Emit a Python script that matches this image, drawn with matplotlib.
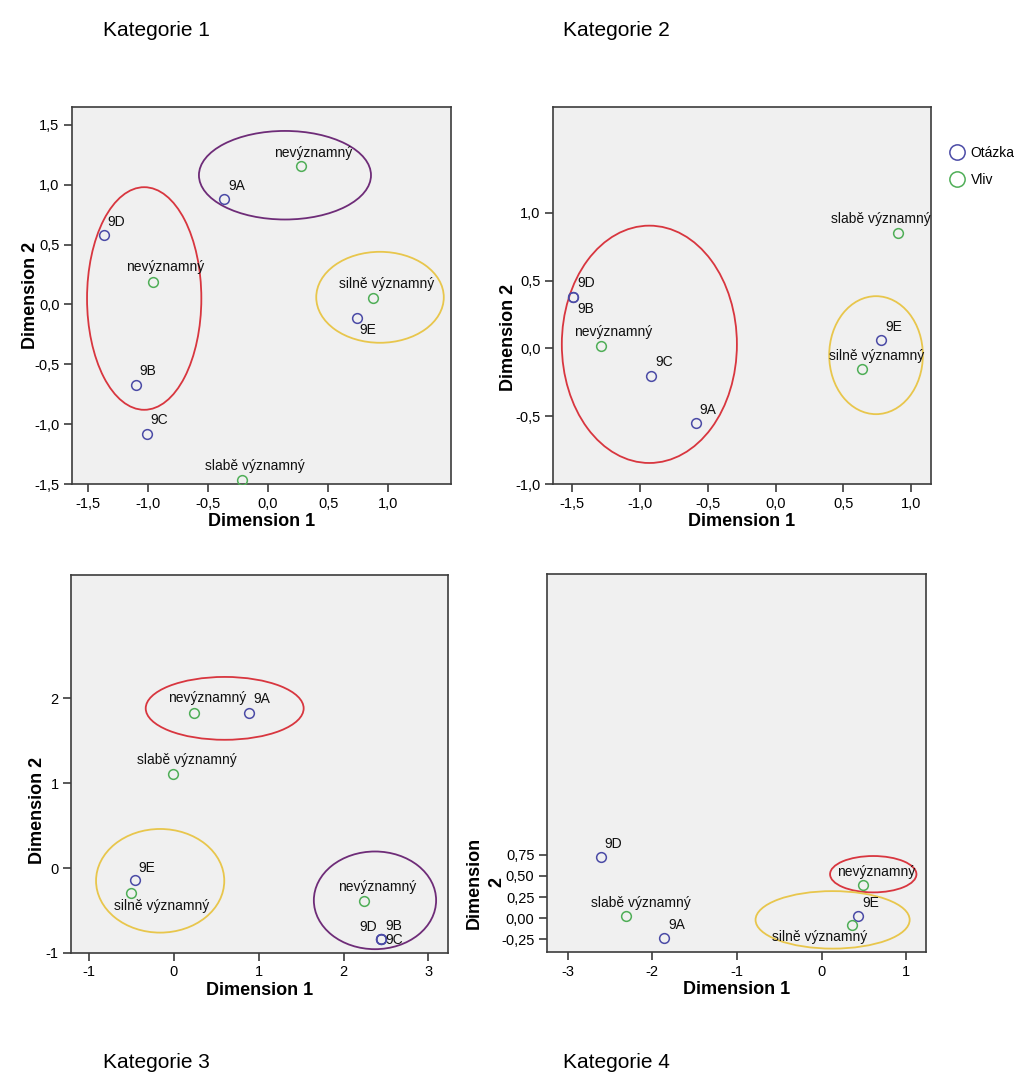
import matplotlib
matplotlib.use("Agg")
import matplotlib.pyplot as plt
from matplotlib.patches import Ellipse
from matplotlib.lines import Line2D

plt.rcParams['font.family'] = ['Liberation Sans', 'DejaVu Sans']

# ---- data: Kategorie 1 ----
k1_labels = ['9D', 'nevýznamný', '9B', '9C', '9A', 'nevýznamný', 'silně významný', '9E', 'slabě významný']
k1_x = [-1.36, -0.96, -1.10, -1.01, -0.37, 0.27, 0.87, 0.74, -0.22]
k1_y = [0.58, 0.19, -0.67, -1.08, 0.88, 1.16, 0.05, -0.11, -1.47]
k1_group = ['Otázka', 'Vliv', 'Otázka', 'Otázka', 'Otázka', 'Vliv', 'Vliv', 'Otázka', 'Vliv']
k1_ellipses = [(-1.03, 0.05, 0.95, 1.86, 'red'), (0.14, 1.08, 1.43, 0.74, 'purple'), (0.93, 0.06, 1.06, 0.76, 'yellow')]
k1_xticks = [-1.5, -1.0, -0.5, 0.0, 0.5, 1.0]
k1_xticklabels = ['-1,5', '-1,0', '-0,5', '0,0', '0,5', '1,0']
k1_yticks = [-1.5, -1.0, -0.5, 0.0, 0.5, 1.0, 1.5]
k1_yticklabels = ['-1,5', '-1,0', '-0,5', '0,0', '0,5', '1,0', '1,5']

# ---- data: Kategorie 2 ----
k2_labels = ['9D', '9B', 'nevýznamný', '9C', '9A', 'slabě významný', '9E', 'silně významný']
k2_x = [-1.49, -1.49, -1.29, -0.92, -0.59, 0.90, 0.78, 0.64]
k2_y = [0.38, 0.38, 0.02, -0.20, -0.55, 0.85, 0.06, -0.15]
k2_group = ['Otázka', 'Otázka', 'Vliv', 'Otázka', 'Otázka', 'Vliv', 'Otázka', 'Vliv']
k2_ellipses = [(-0.93, 0.03, 1.29, 1.75, 'red'), (0.74, -0.05, 0.69, 0.87, 'yellow')]
k2_xticks = [-1.5, -1.0, -0.5, 0.0, 0.5, 1.0]
k2_xticklabels = ['-1,5', '-1,0', '-0,5', '0,0', '0,5', '1,0']
k2_yticks = [-1.0, -0.5, 0.0, 0.5, 1.0]
k2_yticklabels = ['-1,0', '-0,5', '0,0', '0,5', '1,0']

# ---- data: Kategorie 3 ----
k3_labels = ['nevýznamný', '9A', 'slabě významný', '9E', 'silně významný', 'nevýznamný', '9D', '9B', '9C']
k3_x = [0.24, 0.89, -0.01, -0.46, -0.50, 2.24, 2.44, 2.44, 2.44]
k3_y = [1.82, 1.82, 1.11, -0.14, -0.29, -0.39, -0.84, -0.84, -0.84]
k3_group = ['Vliv', 'Otázka', 'Vliv', 'Otázka', 'Vliv', 'Vliv', 'Otázka', 'Otázka', 'Otázka']
k3_ellipses = [(0.60, 1.88, 1.86, 0.74, 'red'), (-0.16, -0.15, 1.51, 1.22, 'yellow'), (2.37, -0.38, 1.44, 1.15, 'purple')]
k3_xticks = [-1, 0, 1, 2, 3]
k3_xticklabels = ['-1', '0', '1', '2', '3']
k3_yticks = [-1, 0, 1, 2]
k3_yticklabels = ['-1', '0', '1', '2']

# ---- data: Kategorie 4 ----
k4_labels = ['9D', 'slabě významný', '9A', 'nevýznamný', '9E', 'silně významný']
k4_x = [-2.61, -2.31, -1.86, 0.49, 0.43, 0.36]
k4_y = [0.72, 0.02, -0.23, 0.39, 0.02, -0.08]
k4_group = ['Otázka', 'Vliv', 'Otázka', 'Vliv', 'Otázka', 'Vliv']
k4_ellipses = [(0.61, 0.52, 1.02, 0.43, 'red'), (0.13, -0.02, 1.82, 0.68, 'yellow')]
k4_xticks = [-3, -2, -1, 0, 1]
k4_xticklabels = ['-3', '-2', '-1', '0', '1']
k4_yticks = [-0.25, 0.0, 0.25, 0.5, 0.75]
k4_yticklabels = ['-0,25', '0,00', '0,25', '0,50', '0,75']

titles = ['Kategorie 1', 'Kategorie 2', 'Kategorie 3', 'Kategorie 4']

# label offsets in pixels (dx, dy up)
k1_off = [(12, 13), (13, 15), (12, 14), (13, 14), (13, 13), (13, 13), (14, 14), (11, -12), (13, 14)]
k2_off = [(13, 14), (12, -12), (13, 14), (13, 14), (12, 13), (-17, 14), (12, 13), (14, 13)]
k3_off = [(13, 15), (13, 14), (14, 14), (12, 12), (30, -13), (13, 14), (-13, 12), (13, 13), (13, -1)]
k4_off = [(13, 13), (15, 13), (13, 13), (13, 13), (13, 13), (-32, -12)]

marker_col = {'Otázka': '#4b4ba6', 'Vliv': '#4fae57'}
ell_col = {'red': '#d8363f', 'purple': '#6e2c78', 'yellow': '#e8c64c'}

W, H = 1035, 1086
fig = plt.figure(figsize=(W / 100, H / 100), dpi=100)

# axes boxes in pixels: left, top, right, bottom
boxes = [(72, 107, 451, 484), (553, 107, 931, 484), (71, 575, 448, 953), (547, 574, 926, 952)]
limits = [((-1.63, 1.52), (-1.5, 1.65)),
          ((-1.64, 1.145), (-1.0, 1.78)),
          ((-1.21, 3.23), (-1.0, 3.45)),
          ((-3.243, 1.233), (-0.40, 4.07))]

panels = [
    (k1_labels, k1_x, k1_y, k1_group, k1_ellipses, k1_off, k1_xticks, k1_xticklabels, k1_yticks, k1_yticklabels),
    (k2_labels, k2_x, k2_y, k2_group, k2_ellipses, k2_off, k2_xticks, k2_xticklabels, k2_yticks, k2_yticklabels),
    (k3_labels, k3_x, k3_y, k3_group, k3_ellipses, k3_off, k3_xticks, k3_xticklabels, k3_yticks, k3_yticklabels),
    (k4_labels, k4_x, k4_y, k4_group, k4_ellipses, k4_off, k4_xticks, k4_xticklabels, k4_yticks, k4_yticklabels),
]
ylabel_pos = [(-0.088, 0.5), (-0.095, 0.389), (-0.066, 0.376), (-0.11, 0.184)]

for i, (labels, xs, ys, grp, ells, offs, xt, xtl, yt, ytl) in enumerate(panels):
    l, t, r, b = boxes[i]
    ax = fig.add_axes([l / W, 1 - b / H, (r - l) / W, (b - t) / H])
    ax.set_facecolor('#f0f0f0')
    for s in ['left', 'bottom', 'top', 'right']:
        ax.spines[s].set_color('#3c3c3c')
        ax.spines[s].set_linewidth(1.2)

    for (cx, cy, w, h, c) in ells:
        ax.add_patch(Ellipse((cx, cy), w, h, fill=False, edgecolor=ell_col[c], linewidth=1.3, zorder=2))

    for lab, x, y, g, (dx, dy) in zip(labels, xs, ys, grp, offs):
        ax.plot(x, y, 'o', markersize=7, markerfacecolor='none',
                markeredgecolor=marker_col[g], markeredgewidth=1.1, zorder=3)
        ax.annotate(lab, (x, y), xytext=(dx, dy), textcoords='offset pixels',
                    ha='center', va='center', fontsize=10, color='#111111', zorder=4)

    ax.set_xlim(*limits[i][0])
    ax.set_ylim(*limits[i][1])
    ax.set_xticks(xt)
    ax.set_xticklabels(xtl)
    ax.set_yticks(yt)
    ax.set_yticklabels(ytl)
    ax.tick_params(direction='out', length=6, width=1.2, color='#3c3c3c', labelsize=10.5, pad=3)

    ax.set_xlabel('Dimension 1', fontsize=13, fontweight='bold', labelpad=2)
    if i == 3:
        ax.set_ylabel('Dimension\n2', fontsize=13, fontweight='bold', linespacing=1.4)
    else:
        ax.set_ylabel('Dimension 2', fontsize=13, fontweight='bold')
    ax.yaxis.set_label_coords(*ylabel_pos[i])

    if i == 1:
        handles = [Line2D([], [], marker='o', linestyle='none', markersize=11, markerfacecolor='none',
                          markeredgecolor=marker_col[g], markeredgewidth=1.1) for g in ['Otázka', 'Vliv']]
        fig.legend(handles, ['Otázka', 'Vliv'], loc='upper left', bbox_to_anchor=(950 / W, 1 - 146 / H),
                   frameon=False, fontsize=10, handlelength=1.0, handletextpad=0.5,
                   labelspacing=0.95, borderpad=0, borderaxespad=0)

# category captions
cap_pos = [(103, 30), (563, 30), (103, 1062), (563, 1062)]
for (px, py), ttl in zip(cap_pos, titles):
    fig.text(px / W, 1 - py / H, ttl, fontsize=15, ha='left', va='center')

fig.savefig('out.png', dpi=100)
